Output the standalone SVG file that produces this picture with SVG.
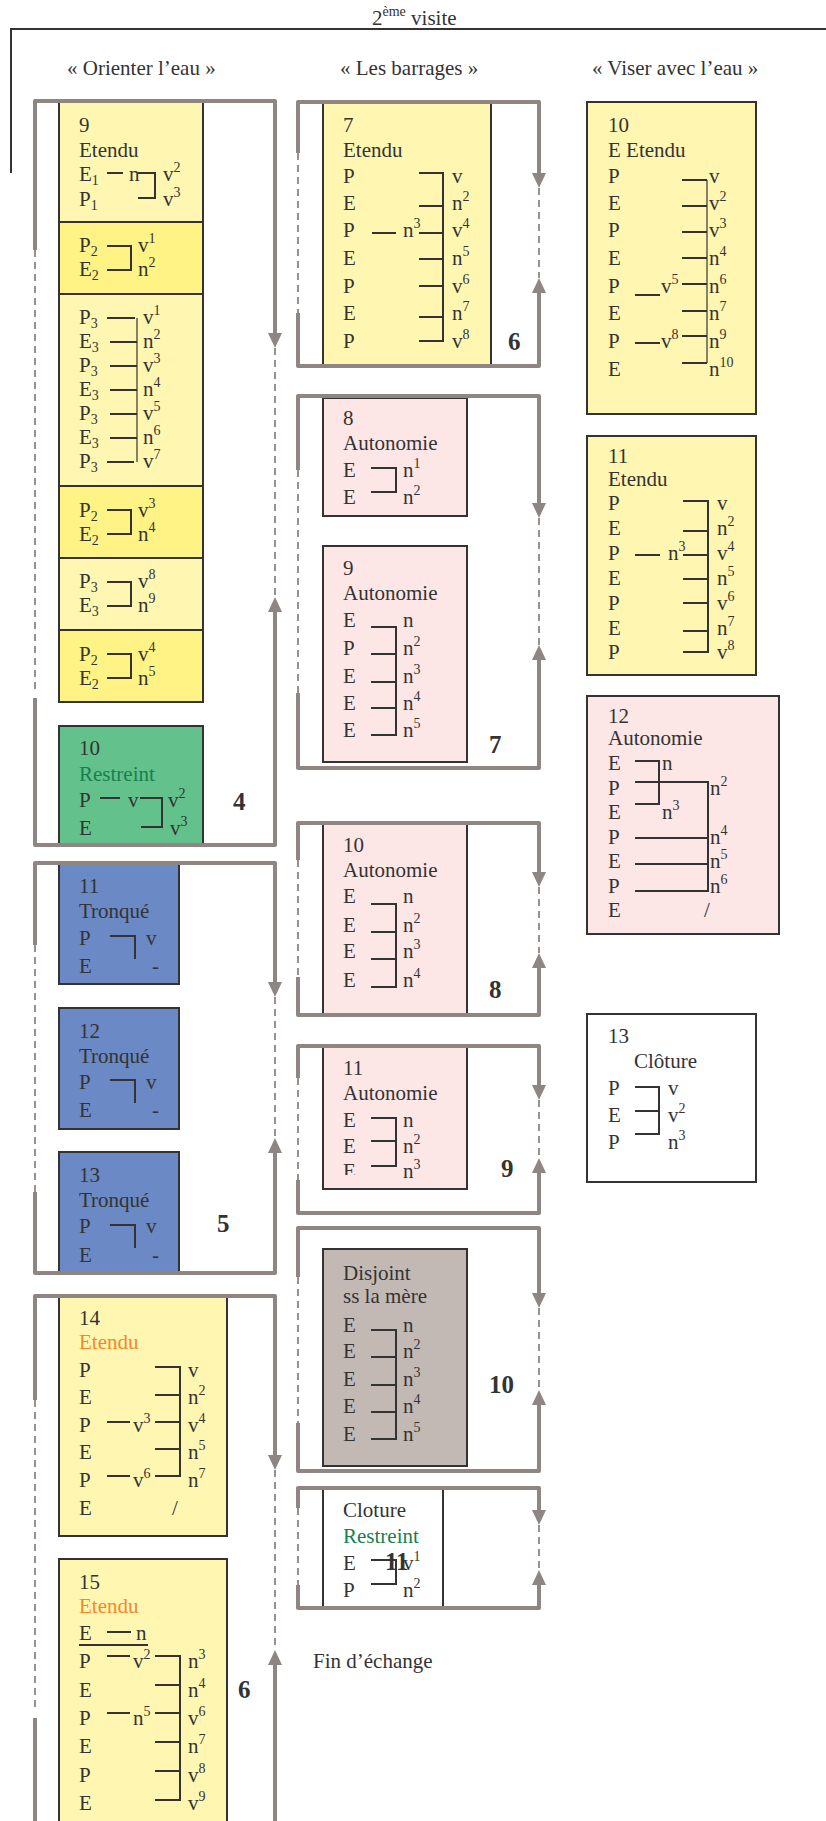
<svg xmlns="http://www.w3.org/2000/svg" xmlns:xlink="http://www.w3.org/1999/xlink" width="826" height="1821" viewBox="0 0 826 1821">
<style>
text{font-family:"Liberation Serif","Times New Roman",serif;font-size:21px;fill:#333}
.s{font-size:14px}
.b{font-weight:bold;font-size:25px;fill:#333}
.g{fill:#17804f}
.o{fill:#f7862a}
.bx{stroke:#333;stroke-width:2}
.ln{stroke:#333;stroke-width:2;fill:none}
.th{stroke:#333;stroke-width:1.2;fill:none}
.lp{stroke:#8f8582;stroke-width:4;fill:none;stroke-linejoin:round}
.ds{stroke:#8f8582;stroke-width:1.8;fill:none;stroke-dasharray:7 5}
.ar{fill:#8f8582}
.py{fill:#fff7b1}
.yy{fill:#fff385}
.pk{fill:#fde6e6}
</style>
<defs>
<path id="ad" d="M-7,-15 L7,-15 L0,0 Z"/>
<path id="au" d="M-7,15 L7,15 L0,0 Z"/>
<clipPath id="cE"><rect x="330" y="1150" width="40" height="25"/></clipPath>
</defs>
<rect width="826" height="1821" fill="#fff"/>
<g id="header">
<path d="M11,173 V29 H826" class="ln"/>
<text x="372" y="25">2<tspan class="s" font-size="12" dy="-9">ème</tspan><tspan dy="9"> visite</tspan></text>
<text x="67" y="75">« Orienter l’eau »</text>
<text x="340" y="75">« Les barrages »</text>
<text x="592" y="75">« Viser avec l’eau »</text>
</g>

<g id="c1-box9">
<rect x="59" y="102" width="144" height="120" class="bx py"/>
<rect x="59" y="222" width="144" height="72" class="bx yy"/>
<rect x="59" y="294" width="144" height="192" class="bx py"/>
<rect x="59" y="486" width="144" height="72" class="bx yy"/>
<rect x="59" y="558" width="144" height="72" class="bx py"/>
<rect x="59" y="630" width="144" height="72" class="bx yy"/>
<text x="79" y="132">9</text>
<text x="79" y="157">Etendu</text>
<text x="79" y="181">E<tspan class="s" dy="4">1</tspan></text>
<text x="79" y="206">P<tspan class="s" dy="4">1</tspan></text>
<path d="M107,173 H123 M138,173 H155 V198 H138" class="ln"/>
<text x="129" y="181">n</text>
<text x="163" y="181">v<tspan class="s" dy="-9">2</tspan></text>
<text x="163" y="206">v<tspan class="s" dy="-9">3</tspan></text>
<text x="79" y="252">P<tspan class="s" dy="4">2</tspan></text>
<text x="79" y="276">E<tspan class="s" dy="4">2</tspan></text>
<path d="M107,246 H131 V270 H107" class="ln"/>
<text x="138" y="252">v<tspan class="s" dy="-9">1</tspan></text>
<text x="138" y="276">n<tspan class="s" dy="-9">2</tspan></text>
<text x="79" y="324">P<tspan class="s" dy="4">3</tspan></text>
<text x="79" y="348">E<tspan class="s" dy="4">3</tspan></text>
<text x="79" y="372">P<tspan class="s" dy="4">3</tspan></text>
<text x="79" y="396">E<tspan class="s" dy="4">3</tspan></text>
<text x="79" y="420">P<tspan class="s" dy="4">3</tspan></text>
<text x="79" y="444">E<tspan class="s" dy="4">3</tspan></text>
<text x="79" y="468">P<tspan class="s" dy="4">3</tspan></text>
<path d="M107,318 H135 M110,342 H137 M110,366 H137 M110,390 H137 M110,414 H137 M110,438 H137 M107,462 H134" class="ln"/>
<path d="M137,318 V462" class="th"/>
<text x="143" y="324">v<tspan class="s" dy="-9">1</tspan></text>
<text x="143" y="348">n<tspan class="s" dy="-9">2</tspan></text>
<text x="143" y="372">v<tspan class="s" dy="-9">3</tspan></text>
<text x="143" y="396">n<tspan class="s" dy="-9">4</tspan></text>
<text x="143" y="420">v<tspan class="s" dy="-9">5</tspan></text>
<text x="143" y="444">n<tspan class="s" dy="-9">6</tspan></text>
<text x="143" y="468">v<tspan class="s" dy="-9">7</tspan></text>
<text x="79" y="517">P<tspan class="s" dy="4">2</tspan></text>
<text x="79" y="541">E<tspan class="s" dy="4">2</tspan></text>
<path d="M107,510 H131 V534 H107" class="ln"/>
<text x="138" y="517">v<tspan class="s" dy="-9">3</tspan></text>
<text x="138" y="541">n<tspan class="s" dy="-9">4</tspan></text>
<text x="79" y="588">P<tspan class="s" dy="4">3</tspan></text>
<text x="79" y="612">E<tspan class="s" dy="4">3</tspan></text>
<path d="M107,582 H131 V606 H107" class="ln"/>
<text x="138" y="588">v<tspan class="s" dy="-9">8</tspan></text>
<text x="138" y="612">n<tspan class="s" dy="-9">9</tspan></text>
<text x="79" y="661">P<tspan class="s" dy="4">2</tspan></text>
<text x="79" y="685">E<tspan class="s" dy="4">2</tspan></text>
<path d="M107,654 H131 V678 H107" class="ln"/>
<text x="138" y="661">v<tspan class="s" dy="-9">4</tspan></text>
<text x="138" y="685">n<tspan class="s" dy="-9">5</tspan></text>
</g>

<g id="c1-box10">
<rect x="59" y="726" width="144" height="119" class="bx" fill="#63c18b"/>
<text x="79" y="755">10</text>
<text x="79" y="781" class="g">Restreint</text>
<text x="79" y="807">P</text>
<text x="79" y="835">E</text>
<path d="M100,798 H120 M140,798 H162 V827 H141" class="ln"/>
<text x="128" y="807">v</text>
<text x="168" y="807">v<tspan class="s" dy="-9">2</tspan></text>
<text x="170" y="835">v<tspan class="s" dy="-9">3</tspan></text>
</g>

<g id="c1-box11">
<rect x="59" y="864" width="120" height="120" class="bx" fill="#6a89c5"/>
<text x="79" y="893">11</text>
<text x="79" y="918">Tronqué</text>
<text x="79" y="945">P</text>
<text x="79" y="973">E</text>
<path d="M110,936 H135 V959" class="ln"/>
<text x="146" y="945">v</text>
<text x="152" y="973">-</text>
</g>
<g id="c1-box12">
<rect x="59" y="1008" width="120" height="121" class="bx" fill="#6a89c5"/>
<text x="79" y="1038">12</text>
<text x="79" y="1063">Tronqué</text>
<text x="79" y="1089">P</text>
<text x="79" y="1117">E</text>
<path d="M110,1080 H135 V1103" class="ln"/>
<text x="146" y="1089">v</text>
<text x="152" y="1117">-</text>
</g>
<g id="c1-box13">
<rect x="59" y="1152" width="120" height="121" class="bx" fill="#6a89c5"/>
<text x="79" y="1182">13</text>
<text x="79" y="1207">Tronqué</text>
<text x="79" y="1233">P</text>
<text x="79" y="1262">E</text>
<path d="M110,1225 H135 V1248" class="ln"/>
<text x="146" y="1233">v</text>
<text x="152" y="1262">-</text>
</g>

<g id="c1-box14">
<rect x="59" y="1296" width="168" height="240" class="bx py"/>
<text x="79" y="1325">14</text>
<text x="79" y="1349" class="o">Etendu</text>
<text x="79" y="1377">P</text>
<text x="79" y="1404">E</text>
<text x="79" y="1432">P</text>
<text x="79" y="1459">E</text>
<text x="79" y="1487">P</text>
<text x="79" y="1515">E</text>
<path d="M155,1367 H180 V1476 H155 M155,1395 H180 M107,1422 H130 M155,1422 H180 M155,1449 H180 M107,1476 H130" class="ln"/>
<text x="133" y="1432">v<tspan class="s" dy="-9">3</tspan></text>
<text x="133" y="1487">v<tspan class="s" dy="-9">6</tspan></text>
<text x="188" y="1377">v</text>
<text x="188" y="1404">n<tspan class="s" dy="-9">2</tspan></text>
<text x="188" y="1432">v<tspan class="s" dy="-9">4</tspan></text>
<text x="188" y="1459">n<tspan class="s" dy="-9">5</tspan></text>
<text x="188" y="1487">n<tspan class="s" dy="-9">7</tspan></text>
<text x="172" y="1515">/</text>
</g>

<g id="c1-box15">
<rect x="59" y="1559" width="168" height="280" class="bx py"/>
<text x="79" y="1589">15</text>
<text x="79" y="1613" class="o">Etendu</text>
<text x="79" y="1640">E</text>
<text x="136" y="1640">n</text>
<path d="M107,1632 H131 M79,1645 H148" class="ln"/>
<text x="79" y="1668">P</text>
<text x="79" y="1697">E</text>
<text x="79" y="1725">P</text>
<text x="79" y="1753">E</text>
<text x="79" y="1782">P</text>
<text x="79" y="1810">E</text>
<path d="M107,1656 H130 M155,1656 H180 V1800 H155 M155,1685 H180 M107,1713 H130 M155,1713 H180 M155,1742 H180 M155,1771 H180" class="ln"/>
<text x="133" y="1668">v<tspan class="s" dy="-9">2</tspan></text>
<text x="133" y="1725">n<tspan class="s" dy="-9">5</tspan></text>
<text x="188" y="1668">n<tspan class="s" dy="-9">3</tspan></text>
<text x="188" y="1697">n<tspan class="s" dy="-9">4</tspan></text>
<text x="188" y="1725">v<tspan class="s" dy="-9">6</tspan></text>
<text x="188" y="1753">n<tspan class="s" dy="-9">7</tspan></text>
<text x="188" y="1782">v<tspan class="s" dy="-9">8</tspan></text>
<text x="188" y="1810">v<tspan class="s" dy="-9">9</tspan></text>
</g>

<g id="c2-box7">
<rect x="323" y="102" width="168" height="264" class="bx py"/>
<text x="343" y="132">7</text>
<text x="343" y="157">Etendu</text>
<text x="343" y="183">P</text>
<text x="343" y="210">E</text>
<text x="343" y="237">P</text>
<text x="343" y="265">E</text>
<text x="343" y="293">P</text>
<text x="343" y="320">E</text>
<text x="343" y="348">P</text>
<path d="M419,173 H443 V341 H419 M419,206 H443 M419,233 H443 M419,259 H443 M419,286 H443 M419,317 H443 M372,233 H396" class="ln"/>
<text x="403" y="237">n<tspan class="s" dy="-9">3</tspan></text>
<text x="452" y="183">v</text>
<text x="452" y="210">n<tspan class="s" dy="-9">2</tspan></text>
<text x="452" y="237">v<tspan class="s" dy="-9">4</tspan></text>
<text x="452" y="265">n<tspan class="s" dy="-9">5</tspan></text>
<text x="452" y="293">v<tspan class="s" dy="-9">6</tspan></text>
<text x="452" y="320">n<tspan class="s" dy="-9">7</tspan></text>
<text x="452" y="348">v<tspan class="s" dy="-9">8</tspan></text>
</g>

<g id="c2-box8">
<rect x="323" y="398" width="144" height="118" class="bx pk"/>
<text x="343" y="425">8</text>
<text x="343" y="450">Autonomie</text>
<text x="343" y="477">E</text>
<text x="343" y="504">E</text>
<path d="M371,468 H396 V492 H371" class="ln"/>
<text x="403" y="477">n<tspan class="s" dy="-9">1</tspan></text>
<text x="403" y="504">n<tspan class="s" dy="-9">2</tspan></text>
</g>

<g id="c2-box9">
<rect x="323" y="546" width="144" height="216" class="bx pk"/>
<text x="343" y="575">9</text>
<text x="343" y="600">Autonomie</text>
<text x="343" y="627">E</text>
<text x="343" y="655">P</text>
<text x="343" y="683">E</text>
<text x="343" y="710">E</text>
<text x="343" y="737">E</text>
<path d="M371,627 H396 V735 H371 M371,654 H396 M371,682 H396 M371,708 H396" class="ln"/>
<text x="403" y="627">n</text>
<text x="403" y="655">n<tspan class="s" dy="-9">2</tspan></text>
<text x="403" y="683">n<tspan class="s" dy="-9">3</tspan></text>
<text x="403" y="710">n<tspan class="s" dy="-9">4</tspan></text>
<text x="403" y="737">n<tspan class="s" dy="-9">5</tspan></text>
</g>

<g id="c2-box10">
<rect x="323" y="823" width="144" height="192" class="bx pk"/>
<text x="343" y="852">10</text>
<text x="343" y="877">Autonomie</text>
<text x="343" y="903">E</text>
<text x="343" y="932">E</text>
<text x="343" y="958">E</text>
<text x="343" y="987">E</text>
<path d="M371,904 H396 V987 H371 M371,932 H396 M371,959 H396" class="ln"/>
<text x="403" y="903">n</text>
<text x="403" y="932">n<tspan class="s" dy="-9">2</tspan></text>
<text x="403" y="958">n<tspan class="s" dy="-9">3</tspan></text>
<text x="403" y="987">n<tspan class="s" dy="-9">4</tspan></text>
</g>

<g id="c2-box11">
<rect x="323" y="1046" width="144" height="143" class="bx pk"/>
<text x="343" y="1075">11</text>
<text x="343" y="1100">Autonomie</text>
<text x="343" y="1127">E</text>
<text x="343" y="1153">E</text>
<text x="343" y="1178" clip-path="url(#cE)">E</text>
<path d="M371,1118 H396 V1166 H371 M371,1141 H396" class="ln"/>
<text x="403" y="1127">n</text>
<text x="403" y="1153">n<tspan class="s" dy="-9">2</tspan></text>
<text x="403" y="1178">n<tspan class="s" dy="-9">3</tspan></text>
</g>

<g id="c2-disjoint">
<rect x="323" y="1249" width="144" height="217" class="bx" fill="#c2b9b5"/>
<text x="343" y="1280">Disjoint</text>
<text x="343" y="1303">ss la mère</text>
<text x="343" y="1332">E</text>
<text x="343" y="1358">E</text>
<text x="343" y="1386">E</text>
<text x="343" y="1413">E</text>
<text x="343" y="1441">E</text>
<path d="M371,1330 H396 V1439 H371 M371,1357 H396 M371,1385 H396 M371,1412 H396" class="ln"/>
<text x="403" y="1332">n</text>
<text x="403" y="1358">n<tspan class="s" dy="-9">2</tspan></text>
<text x="403" y="1386">n<tspan class="s" dy="-9">3</tspan></text>
<text x="403" y="1413">n<tspan class="s" dy="-9">4</tspan></text>
<text x="403" y="1441">n<tspan class="s" dy="-9">5</tspan></text>
</g>

<g id="c2-cloture">
<rect x="323" y="1488" width="120" height="120" class="bx" fill="none"/>
<text x="343" y="1517">Cloture</text>
<text x="343" y="1543" class="g">Restreint</text>
<text x="343" y="1570">E</text>
<text x="343" y="1597">P</text>
<path d="M371,1560 H396 V1584 H371" class="ln"/>
<text x="403" y="1570">v<tspan class="s" dy="-9">1</tspan></text>
<text x="403" y="1597">n<tspan class="s" dy="-9">2</tspan></text>
</g>

<g id="c3-box10">
<rect x="587" y="102" width="169" height="312" class="bx py"/>
<text x="608" y="132">10</text>
<text x="608" y="157">E Etendu</text>
<text x="608" y="183">P</text>
<text x="608" y="210">E</text>
<text x="608" y="237">P</text>
<text x="608" y="265">E</text>
<text x="608" y="293">P</text>
<text x="608" y="320">E</text>
<text x="608" y="348">P</text>
<text x="608" y="376">E</text>
<path d="M682,180 H707 M682,206 H707 M682,232 H707 M682,258 H707 M682,284 H707 M682,311 H707 M682,336 H707 M682,363 H707 M635,295 H660 M635,343 H660" class="ln"/>
<path d="M707,180 V363" class="th"/>
<text x="661" y="293">v<tspan class="s" dy="-9">5</tspan></text>
<text x="661" y="348">v<tspan class="s" dy="-9">8</tspan></text>
<text x="709" y="183">v</text>
<text x="709" y="210">v<tspan class="s" dy="-9">2</tspan></text>
<text x="709" y="237">v<tspan class="s" dy="-9">3</tspan></text>
<text x="709" y="265">n<tspan class="s" dy="-9">4</tspan></text>
<text x="709" y="293">n<tspan class="s" dy="-9">6</tspan></text>
<text x="709" y="320">n<tspan class="s" dy="-9">7</tspan></text>
<text x="709" y="348">n<tspan class="s" dy="-9">9</tspan></text>
<text x="709" y="376">n<tspan class="s" dy="-9">10</tspan></text>
</g>

<g id="c3-box11">
<rect x="587" y="436" width="169" height="239" class="bx py"/>
<text x="608" y="463">11</text>
<text x="608" y="486">Etendu</text>
<text x="608" y="510">P</text>
<text x="608" y="535">E</text>
<text x="608" y="560">P</text>
<text x="608" y="585">E</text>
<text x="608" y="610">P</text>
<text x="608" y="635">E</text>
<text x="608" y="659">P</text>
<path d="M683,501 H708 V652 H683 M683,531 H708 M683,555 H708 M683,579 H708 M683,603 H708 M683,631 H708 M635,555 H660" class="ln"/>
<text x="668" y="560">n<tspan class="s" dy="-9">3</tspan></text>
<text x="717" y="510">v</text>
<text x="717" y="535">n<tspan class="s" dy="-9">2</tspan></text>
<text x="717" y="560">v<tspan class="s" dy="-9">4</tspan></text>
<text x="717" y="585">n<tspan class="s" dy="-9">5</tspan></text>
<text x="717" y="610">v<tspan class="s" dy="-9">6</tspan></text>
<text x="717" y="635">n<tspan class="s" dy="-9">7</tspan></text>
<text x="717" y="659">v<tspan class="s" dy="-9">8</tspan></text>
</g>

<g id="c3-box12">
<rect x="587" y="696" width="192" height="238" class="bx pk"/>
<text x="608" y="723">12</text>
<text x="608" y="745">Autonomie</text>
<text x="608" y="770">E</text>
<text x="608" y="795">P</text>
<text x="608" y="819">E</text>
<text x="608" y="844">P</text>
<text x="608" y="868">E</text>
<text x="608" y="893">P</text>
<text x="608" y="917">E</text>
<path d="M635,761 H659 V804 H635 M635,782 H708 V891 H635 M635,838 H708 M635,864 H708" class="ln"/>
<text x="662" y="770">n</text>
<text x="662" y="819">n<tspan class="s" dy="-9">3</tspan></text>
<text x="710" y="795">n<tspan class="s" dy="-9">2</tspan></text>
<text x="710" y="844">n<tspan class="s" dy="-9">4</tspan></text>
<text x="710" y="868">n<tspan class="s" dy="-9">5</tspan></text>
<text x="710" y="893">n<tspan class="s" dy="-9">6</tspan></text>
<text x="704" y="917">/</text>
</g>

<g id="c3-box13">
<rect x="587" y="1014" width="169" height="168" class="bx" fill="#fff"/>
<text x="608" y="1043">13</text>
<text x="634" y="1068">Clôture</text>
<text x="608" y="1095">P</text>
<text x="608" y="1122">E</text>
<text x="608" y="1149">P</text>
<path d="M635,1087 H659 V1134 H635 M635,1111 H659" class="ln"/>
<text x="668" y="1095">v</text>
<text x="668" y="1122">v<tspan class="s" dy="-9">2</tspan></text>
<text x="668" y="1149">n<tspan class="s" dy="-9">3</tspan></text>
</g>

<g id="connectors">
<!-- column 1 loop 4 -->
<path d="M35,250 V101 H275 V333" class="lp"/>
<path d="M35,250 V690 M275,348 V597" class="ds"/>
<path d="M35,698 V845 H275 V612" class="lp"/>
<use xlink:href="#ad" x="275" y="348" class="ar"/>
<use xlink:href="#au" x="275" y="597" class="ar"/>
<!-- column 1 loop 5 -->
<path d="M35,945 V863 H275 V982" class="lp"/>
<path d="M35,945 V1192 M275,997 V1138" class="ds"/>
<path d="M35,1192 V1273 H275 V1153" class="lp"/>
<use xlink:href="#ad" x="275" y="997" class="ar"/>
<use xlink:href="#au" x="275" y="1138" class="ar"/>
<!-- column 1 loop 6 -->
<path d="M35,1400 V1296 H275 V1455" class="lp"/>
<path d="M35,1400 V1708 M275,1470 V1650" class="ds"/>
<path d="M35,1718 V1830 M275,1665 V1830" class="lp"/>
<use xlink:href="#ad" x="275" y="1470" class="ar"/>
<use xlink:href="#au" x="275" y="1650" class="ar"/>
<!-- column 2 loop 6 -->
<path d="M298,153 V102 H539 V173" class="lp"/>
<path d="M298,153 V313 M539,188 V278" class="ds"/>
<path d="M298,313 V366 H539 V293" class="lp"/>
<use xlink:href="#ad" x="539" y="188" class="ar"/>
<use xlink:href="#au" x="539" y="278" class="ar"/>
<!-- column 2 loop 7 -->
<path d="M298,470 V396 H539 V503" class="lp"/>
<path d="M298,470 V693 M539,518 V645" class="ds"/>
<path d="M298,693 V768 H539 V660" class="lp"/>
<use xlink:href="#ad" x="539" y="518" class="ar"/>
<use xlink:href="#au" x="539" y="645" class="ar"/>
<!-- column 2 loop 8 -->
<path d="M298,860 V823 H539 V872" class="lp"/>
<path d="M298,860 V977 M539,887 V953" class="ds"/>
<path d="M298,977 V1015 H539 V968" class="lp"/>
<use xlink:href="#ad" x="539" y="887" class="ar"/>
<use xlink:href="#au" x="539" y="953" class="ar"/>
<!-- column 2 loop 9 -->
<path d="M298,1078 V1046 H539 V1085" class="lp"/>
<path d="M298,1078 V1180 M539,1100 V1158" class="ds"/>
<path d="M298,1180 V1213 H539 V1173" class="lp"/>
<use xlink:href="#ad" x="539" y="1100" class="ar"/>
<use xlink:href="#au" x="539" y="1158" class="ar"/>
<!-- column 2 loop 10 -->
<path d="M298,1277 V1228 H539 V1293" class="lp"/>
<path d="M298,1277 V1423 M539,1308 V1390" class="ds"/>
<path d="M298,1423 V1471 H539 V1405" class="lp"/>
<use xlink:href="#ad" x="539" y="1308" class="ar"/>
<use xlink:href="#au" x="539" y="1390" class="ar"/>
<!-- column 2 loop 11 -->
<path d="M298,1508 V1488 H539 V1510" class="lp"/>
<path d="M298,1508 V1585 M539,1525 V1570" class="ds"/>
<path d="M298,1585 V1608 H539 V1585" class="lp"/>
<use xlink:href="#ad" x="539" y="1525" class="ar"/>
<use xlink:href="#au" x="539" y="1570" class="ar"/>
</g>

<g id="loop-labels">
<text x="233" y="810" class="b">4</text>
<text x="217" y="1232" class="b">5</text>
<text x="238" y="1698" class="b">6</text>
<text x="508" y="350" class="b">6</text>
<text x="489" y="753" class="b">7</text>
<text x="489" y="998" class="b">8</text>
<text x="501" y="1177" class="b">9</text>
<text x="489" y="1393" class="b">10</text>
<text x="385" y="1570" class="b">11</text>
<text x="313" y="1668">Fin d’échange</text>
</g>
</svg>
